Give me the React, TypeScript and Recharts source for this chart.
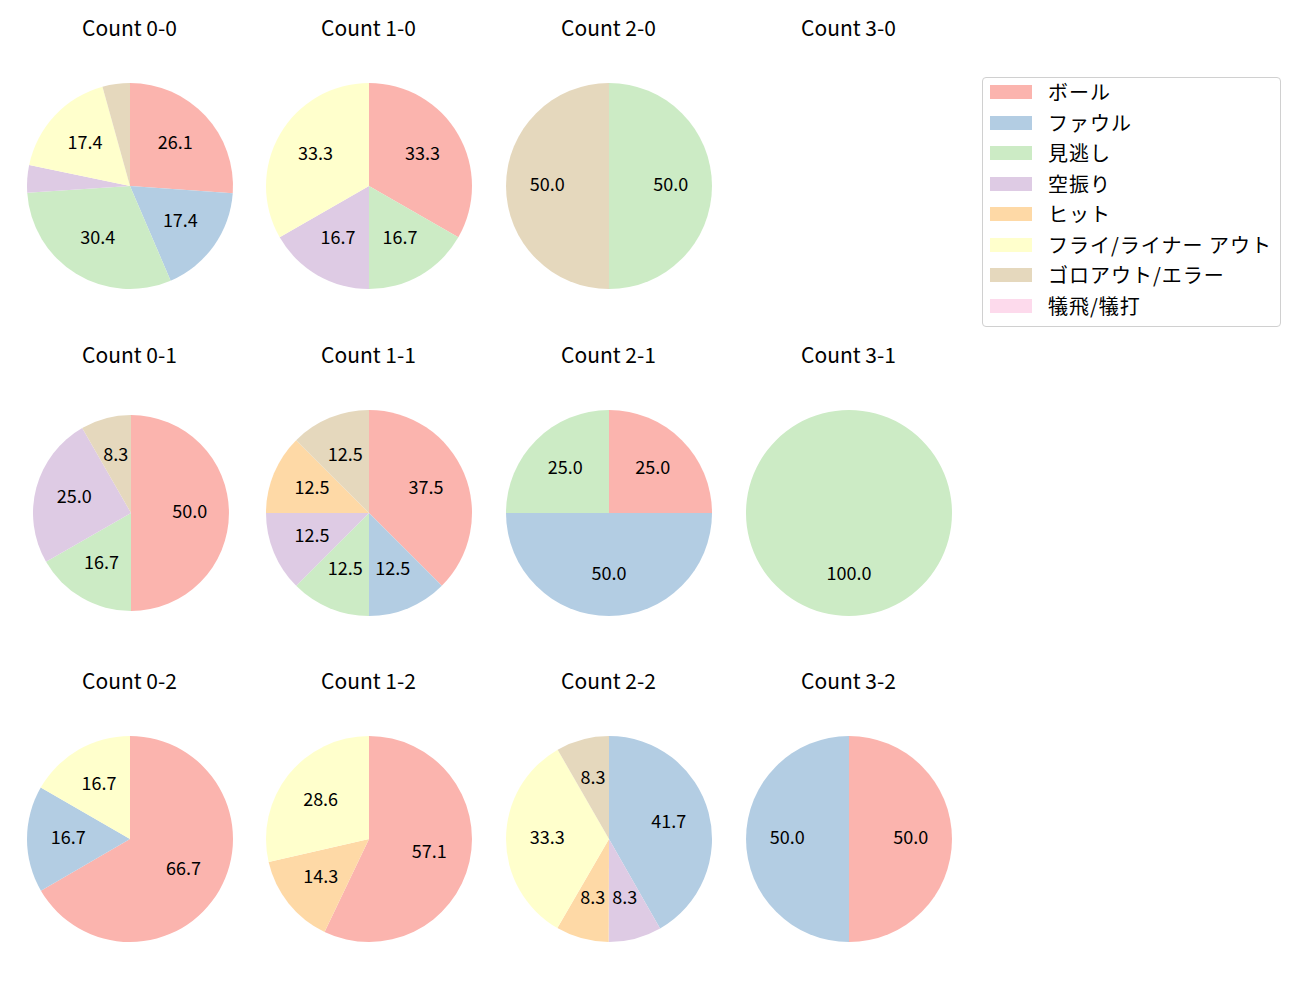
import React from 'react';
import { PieChart, Pie, Cell } from 'recharts';

const categories = ['ボール', 'ファウル', '見逃し', '空振り', 'ヒット', 'フライ/ライナー アウト', 'ゴロアウト/エラー', '犠飛/犠打'];
const colors = ['#fbb4ae', '#b3cde3', '#ccebc5', '#decbe4', '#fed9a6', '#ffffcc', '#e5d8bd', '#fddaec'];

// percentages per category (order as categories)
const count00 = [26.1, 17.4, 30.4, 4.3, 0, 17.4, 4.3, 0];
const count10 = [33.3, 0, 16.7, 16.7, 0, 33.3, 0, 0];
const count20 = [0, 0, 50.0, 0, 0, 0, 50.0, 0];
const count30: number[] = [0, 0, 0, 0, 0, 0, 0, 0];
const count01 = [50.0, 0, 16.7, 25.0, 0, 0, 8.3, 0];
const count11 = [37.5, 12.5, 12.5, 12.5, 12.5, 0, 12.5, 0];
const count21 = [25.0, 50.0, 25.0, 0, 0, 0, 0, 0];
const count31 = [0, 0, 100.0, 0, 0, 0, 0, 0];
const count02 = [66.7, 16.7, 0, 0, 0, 16.7, 0, 0];
const count12 = [57.1, 0, 0, 0, 14.3, 28.6, 0, 0];
const count22 = [0, 41.7, 0, 8.3, 8.3, 33.3, 8.3, 0];
const count32 = [50.0, 50.0, 0, 0, 0, 0, 0, 0];

const titles = ['Count 0-0', 'Count 1-0', 'Count 2-0', 'Count 3-0', 'Count 0-1', 'Count 1-1', 'Count 2-1', 'Count 3-1', 'Count 0-2', 'Count 1-2', 'Count 2-2', 'Count 3-2'];
const series = [count00, count10, count20, count30, count01, count11, count21, count31, count02, count12, count22, count32];

const colX = [129.5, 368.5, 608.5, 848.5];
const rowY = [186, 512.5, 838.5];
const titleY = [29, 356, 682];

const FONT = '"Noto Sans CJK JP", "Noto Sans", sans-serif';
const RAD = Math.PI / 180;

const renderLabel = (props: any) => {
  const { cx, cy, midAngle, outerRadius, value } = props;
  if (value < 5) return null;
  const r = outerRadius * 0.6;
  const x = cx + r * Math.cos(-midAngle * RAD);
  const y = cy + r * Math.sin(-midAngle * RAD) - 3;
  return (
    <text x={x} y={y} fill="#000" textAnchor="middle" dominantBaseline="central" fontSize={18} fontFamily={FONT}>
      {Number(value).toFixed(1)}
    </text>
  );
};

export default function App() {
  return (
    <div style={{ position: 'absolute', left: 0, top: 0, width: 1300, height: 1000, background: '#fff', fontFamily: FONT }}>
      {series.map((vals, i) => {
        const col = i % 4;
        const row = Math.floor(i / 4);
        const cx = i === 4 ? 131 : colX[col];
        const cy = rowY[row];
        const radius = i === 4 ? 98 : 103;
        const data = vals
          .map((v, k) => ({ name: categories[k], value: v, color: colors[k] }))
          .filter((d) => d.value > 0);
        const size = 240;
        return (
          <React.Fragment key={i}>
            <div style={{ position: 'absolute', left: colX[col] - 100, top: titleY[row] - 17, width: 200, textAlign: 'center', fontSize: 21, lineHeight: '30px', color: '#000' }}>
              {titles[i]}
            </div>
            {data.length > 0 && (
              <div style={{ position: 'absolute', left: cx - size / 2, top: cy - size / 2 }}>
                <PieChart width={size} height={size} margin={{ top: 0, right: 0, bottom: 0, left: 0 }}>
                  <Pie
                    data={data}
                    dataKey="value"
                    cx={size / 2}
                    cy={size / 2}
                    outerRadius={radius}
                    startAngle={90}
                    endAngle={-270}
                    stroke="none"
                    label={renderLabel}
                    labelLine={false}
                    isAnimationActive={false}
                  >
                    {data.map((d, k) => (
                      <Cell key={k} fill={d.color} />
                    ))}
                  </Pie>
                </PieChart>
              </div>
            )}
          </React.Fragment>
        );
      })}
      <div style={{ position: 'absolute', left: 982, top: 77, width: 297, height: 248, border: '1px solid #d0d0d0', borderRadius: 4, background: '#fff' }}>
        {categories.map((c, k) => (
          <div key={k} style={{ position: 'absolute', left: 7, top: 7 + k * 30.5, height: 14, width: 290 }}>
            <div style={{ position: 'absolute', left: 0, top: 0, width: 42, height: 14, background: colors[k] }} />
            <div style={{ position: 'absolute', left: 58, top: -8, fontSize: 20, lineHeight: '30px', whiteSpace: 'nowrap', color: '#000', letterSpacing: 1 }}>{c}</div>
          </div>
        ))}
      </div>
    </div>
  );
}
